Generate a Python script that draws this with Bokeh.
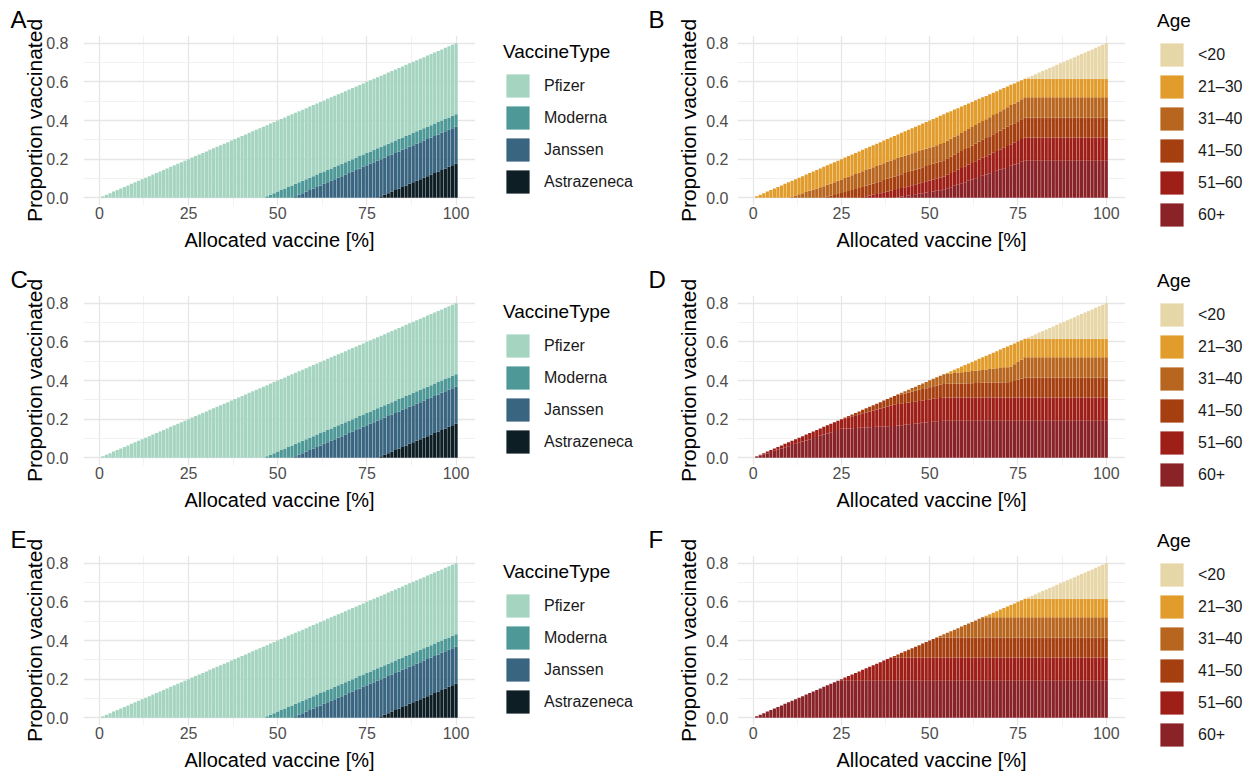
import numpy as np
from bokeh.plotting import figure
from bokeh.models import (ColumnDataSource, Legend, LegendItem, FixedTicker,
                          Range1d, PrintfTickFormatter)
from bokeh.layouts import column, row
from bokeh.embed import file_html
from bokeh.resources import INLINE

# ---------------- data ----------------
X = list(range(1, 101))                      # allocated vaccine [%]
X_TICKS = [0, 25, 50, 75, 100]
X_MINOR = [12.5, 37.5, 62.5, 87.5]
Y_TICKS = [0.0, 0.2, 0.4, 0.6, 0.8]
Y_MINOR = [0.1, 0.3, 0.5, 0.7]

VACCINE_TYPES = ["Pfizer", "Moderna", "Janssen", "Astrazeneca"]
VACCINE_COLORS = ["#a5d4c0", "#4e9997", "#3a6580", "#0e1e25"]
AGE_GROUPS = ["<20", "21\u201330", "31\u201340", "41\u201350", "51\u201360", "60+"]
AGE_COLORS = ["#e7d6a8", "#e19c2b", "#b8661f", "#a63f10", "#9e1e18", "#892328"]

# proportion vaccinated, in thousandths, one value per bar (x = 1..100)
PFIZER = [8, 16, 24, 32, 40, 48, 56, 64, 72, 80, 88, 96, 104, 112, 120, 128, 136,
          144, 152, 160, 168, 176, 184, 192, 200, 208, 216, 224, 232, 240, 248, 256,
          264, 272, 280, 288, 296, 304, 312, 320, 328, 336, 344, 352, 360, 368] + [368] * 54
MODERNA = [0] * 46 + [8, 16, 24, 32, 40, 48, 56, 64] + [64] * 46
JANSSEN = [0] * 54 + [8, 16, 24, 32, 40, 48, 56, 64, 72, 80, 88, 96, 104, 112, 120,
                      128, 136, 144, 152, 160, 168, 176, 184, 192] + [192] * 22
ASTRAZENECA = [0] * 78 + [8, 16, 24, 32, 40, 48, 56, 64, 72, 80, 88, 96, 104, 112,
                          120, 128, 136, 144, 152, 160, 168, 176]

U20 = [0] * 77 + [8, 16, 24, 32, 40, 48, 56, 64, 72, 80, 88, 96, 104, 112, 120, 128,
                  136, 144, 152, 160, 168, 176, 184]

# panel B
B_2130 = [8, 16, 24, 32, 40, 48, 56, 64, 72, 80, 82, 84, 86, 88, 90, 92, 94, 96, 98, 100,
          101, 102, 103, 104, 105, 106, 107, 108, 109, 110, 111, 112, 113, 114, 115, 116,
          117, 118, 119, 120, 122, 124, 126, 128, 130, 132, 134, 136, 138, 140, 142, 144,
          146, 148, 146, 143, 141, 139, 137, 134, 132, 130, 128, 125, 123, 121, 119, 116,
          114, 112, 110, 107, 105, 103, 101, 98, 96] + [96] * 23
B_3140 = [0] * 10 + [6, 12, 18, 24, 30, 36, 42, 48, 54, 60, 62, 64, 66, 68, 70, 72, 74, 76,
                     78, 80, 81, 82, 83, 84, 85, 86, 87, 88, 89, 90] + [90] * 14 + \
         [91, 91, 92, 92, 93, 94, 94, 95, 96, 96, 97, 97, 98, 99, 99, 100, 100, 101, 102,
          102, 103, 103, 104] + [104] * 23
B_4150 = [0] * 20 + [5, 10, 15, 20, 25, 30, 35, 40, 45, 50, 52, 54, 56, 58, 60, 62, 64, 66,
                     68, 70, 71, 72, 73, 74, 75, 76, 77, 78, 79, 80, 81, 82, 83, 84, 85, 86,
                     87, 87, 88, 89, 90, 91, 92, 93, 94, 94, 95, 96, 97, 98, 99, 100, 101,
                     101, 102, 103, 104] + [104] * 23
B_5160 = [0] * 30 + [4, 8, 12, 16, 20, 24, 28, 32, 36, 40, 42, 44, 46, 48, 50, 52, 54, 56,
                     58, 60, 62, 64, 66, 68, 70, 73, 75, 77, 79, 82, 84, 86, 88, 91, 93, 95,
                     97, 100, 102, 104, 106, 109, 111, 113, 115, 118, 120] + [120] * 23
B_60 = [0] * 40 + [3, 6, 9, 12, 15, 18, 21, 24, 27, 30, 33, 36, 39, 42, 49, 55, 62, 68, 75,
                   81, 88, 94, 101, 107, 114, 120, 127, 133, 140, 146, 153, 159, 166, 172,
                   179, 186, 192] + [192] * 23

# panel D
D_60 = [6, 12, 18, 24, 30, 36, 42, 48, 54, 60, 66, 72, 78, 84, 90, 96, 102, 108, 114, 120,
        126, 132, 138, 144, 150, 151, 152, 153, 154, 155, 156, 157, 158, 159, 160, 161, 162,
        163, 164, 165, 167, 169, 171, 173, 175, 177, 179, 181, 183, 185, 187, 189, 191,
        192] + [192] * 46
D_5160 = [2, 4, 6, 8, 10, 12, 14, 16, 18, 20, 22, 24, 26, 28, 30, 32, 34, 36, 38, 40, 42,
          44, 46, 48, 50, 54, 58, 62, 66, 70, 74, 78, 82, 86, 90, 94, 98, 102, 106, 110,
          111, 111, 112, 113, 114, 114, 115, 116, 116, 117, 118, 119, 119, 120] + [120] * 46
D_4150 = [0] * 25 + [3, 6, 9, 12, 15, 18, 21, 24, 27, 30, 33, 36, 39, 42, 45, 47, 49, 50,
                     52, 54, 56, 58, 59, 61, 63, 65, 66, 68, 70, 71, 71, 72, 72, 73, 73, 74,
                     74, 75, 75, 76, 76, 77, 77, 78, 78, 79, 79, 80, 86, 92, 98, 104] + [104] * 23
D_3140 = [0] * 40 + [4, 7, 11, 14, 18, 21, 25, 29, 32, 36, 39, 43, 46, 50, 52, 53, 55, 56,
                     58, 59, 61, 63, 64, 66, 67, 69, 71, 72, 74, 75, 77, 78, 80, 86, 92, 98,
                     104] + [104] * 23
D_2130 = [0] * 54 + [5, 12, 17, 24, 29, 36, 41, 47, 53, 59, 65, 71, 76, 83, 88, 95, 100,
                     107, 112, 108, 104, 100, 96] + [96] * 23

# panel F
F_60 = [8, 16, 24, 32, 40, 48, 56, 64, 72, 80, 88, 96, 104, 112, 120, 128, 136, 144, 152,
        160, 168, 176, 184, 192] + [192] * 76
F_5160 = [0] * 24 + [8, 16, 24, 32, 40, 48, 56, 64, 72, 80, 88, 96, 104, 112, 120] + [120] * 61
F_4150 = [0] * 39 + [8, 16, 24, 32, 40, 48, 56, 64, 72, 80, 88, 96, 104] + [104] * 48
F_3140 = [0] * 52 + [8, 16, 24, 32, 40, 48, 56, 64, 72, 80, 88, 96, 104] + [104] * 35
F_2130 = [0] * 65 + [8, 16, 24, 32, 40, 48, 56, 64, 72, 80, 88, 96] + [96] * 23

VACCINE_SERIES = [PFIZER, MODERNA, JANSSEN, ASTRAZENECA]
B_SERIES = [U20, B_2130, B_3140, B_4150, B_5160, B_60]
D_SERIES = [U20, D_2130, D_3140, D_4150, D_5160, D_60]
F_SERIES = [U20, F_2130, F_3140, F_4150, F_5160, F_60]

FONT = "Liberation Sans"
ROW_H = [260, 260, 253]
TOP = 35
FRAME_H = 170


def panel(letter, groups, colors, series, col, height):
    if col == 0:
        left, frame_w, letter_x, lab_off, tit_off = 83, 392, -73, 15, -3
    else:
        left, frame_w, letter_x, lab_off, tit_off = 94, 388, -89, 9, 3
    p = figure(frame_width=frame_w, frame_height=FRAME_H,
               x_range=Range1d(-4.45, 105.45), y_range=Range1d(-0.04, 0.84),
               output_backend="svg", toolbar_location=None,
               min_border_left=left, min_border_right=0,
               min_border_top=TOP, min_border_bottom=height - TOP - FRAME_H)
    p.outline_line_color = None
    p.background_fill_color = "white"
    p.border_fill_color = "white"

    p.title.text = letter
    p.title.align = "left"
    p.title.offset = letter_x
    p.title.standoff = 6
    p.title.text_font = FONT
    p.title.text_font_size = "24px"
    p.title.text_font_style = "normal"
    p.title.text_color = "black"

    # stacking: last group in legend order is the bottom layer
    keys = [f"s{i}" for i in range(len(groups))]
    data = {"x": X}
    for k, s in zip(keys, series):
        data[k] = np.array(s, dtype=float) / 1000.0
    src = ColumnDataSource(data)
    p.vbar_stack(keys[::-1], x="x", width=0.9, color=colors[::-1],
                 line_color=None, source=src)

    p.xaxis.ticker = FixedTicker(ticks=X_TICKS, minor_ticks=X_MINOR)
    p.yaxis.ticker = FixedTicker(ticks=Y_TICKS, minor_ticks=Y_MINOR)
    p.yaxis.formatter = PrintfTickFormatter(format="%.1f")
    p.xaxis.axis_label = "Allocated vaccine [%]"
    p.yaxis.axis_label = "Proportion vaccinated"
    for ax in (p.xaxis[0], p.yaxis[0]):
        ax.axis_line_color = None
        ax.major_tick_line_color = None
        ax.minor_tick_line_color = None
        ax.major_tick_out = 0
        ax.major_tick_in = 0
        ax.minor_tick_out = 0
        ax.minor_tick_in = 0
        ax.major_label_text_font = FONT
        ax.major_label_text_font_size = "16px"
        ax.major_label_text_color = "#4d4d4d"
        ax.axis_label_text_font = FONT
        ax.axis_label_text_font_style = "normal"
        ax.axis_label_text_color = "black"
    p.xaxis.axis_label_text_font_size = "20px"
    p.yaxis.axis_label_text_font_size = "21px"
    p.xaxis.major_label_standoff = 1
    p.xaxis.axis_label_standoff = 7
    p.yaxis.major_label_standoff = lab_off
    p.yaxis.axis_label_standoff = tit_off

    for g in (p.xgrid[0], p.ygrid[0]):
        g.grid_line_color = "#e6e6e6"
        g.grid_line_width = 1.3
        g.minor_grid_line_color = "#efefef"
        g.minor_grid_line_width = 0.8
    return p


def legend_box(groups, colors, title, width, height, vx, vy):
    # a borderless figure whose whole area is the frame; the key sits inside it
    p = figure(width=width, height=height, x_range=Range1d(0, 1), y_range=Range1d(0, 1),
               x_axis_type=None, y_axis_type=None, output_backend="svg",
               toolbar_location=None, min_border=0)
    p.outline_line_color = None
    p.background_fill_color = "white"
    p.border_fill_color = "white"
    items = []
    for g, c in zip(groups, colors):
        # key renderer: one bar lying outside the visible ranges, only used for the key
        r = p.vbar(x=[-10], bottom=[-3], top=[-2], width=1, fill_color=c, line_color=None)
        items.append(LegendItem(label=g, renderers=[r]))
    legend = Legend(items=items, location=(vx, vy), title=title,
                    title_text_font=FONT, title_text_font_size="19px",
                    title_text_font_style="normal", title_text_color="black",
                    title_standoff=8,
                    label_text_font=FONT, label_text_font_size="16px",
                    label_text_color="#1a1a1a",
                    glyph_width=29, glyph_height=29, label_height=29,
                    spacing=3, label_standoff=12, padding=0, margin=0,
                    border_line_color=None, background_fill_alpha=0)
    p.add_layout(legend, "center")
    return p


panels = [("A", "B", B_SERIES), ("C", "D", D_SERIES), ("E", "F", F_SERIES)]
col_v, col_lv, col_a, col_la = [], [], [], []
for r, (la, lb, ser) in enumerate(panels):
    h = ROW_H[r]
    col_v.append(panel(la, VACCINE_TYPES, VACCINE_COLORS, VACCINE_SERIES, 0, h))
    # legend bottoms: 196 px (vaccine key) and 229 px (age key) below the row top
    col_lv.append(legend_box(VACCINE_TYPES, VACCINE_COLORS, "VaccineType", 168, h,
                             28, h - 196))
    col_a.append(panel(lb, AGE_GROUPS, AGE_COLORS, ser, 1, h))
    col_la.append(legend_box(AGE_GROUPS, AGE_COLORS, "Age", 122, h, 32, h - 229))

layout = row(column(*col_v), column(*col_lv), column(*col_a), column(*col_la))
open("out.html", "w").write(file_html(layout, INLINE))
